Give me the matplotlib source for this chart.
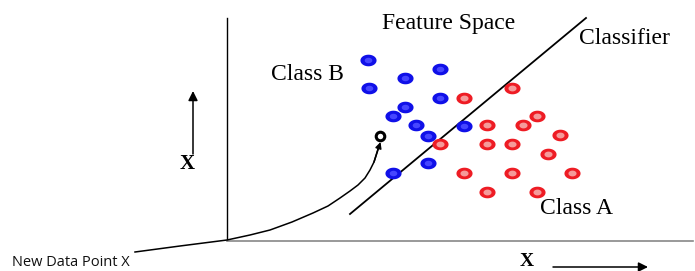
import matplotlib
matplotlib.use("Agg")
import matplotlib.pyplot as plt
import numpy as np
from matplotlib.path import Path

# Data (in picture coordinates: x to the right, y downward)
class_b_x = [368, 405, 440, 369, 440, 405, 393, 416, 428, 464, 428, 393]
class_b_y = [60, 78, 69, 88, 98, 107, 116, 125, 136, 126, 163, 173]
class_a_x = [464, 512, 487, 523, 537, 440, 487, 512, 560, 548, 464, 512, 572, 487, 537]
class_a_y = [98, 88, 125, 125, 116, 144, 144, 144, 135, 154, 173, 173, 173, 192, 192]
new_point = (380, 136)
classifier_x = [350, 586]
classifier_y = [214, 18]
curve_x = [135, 180, 227, 250, 270, 292, 313, 328, 340, 350, 358, 365, 370, 374, 378]
curve_y = [252, 246, 240, 235, 230, 222, 213, 206, 198, 191, 185, 178, 170, 162, 149]

fig = plt.figure(figsize=(6.95, 2.71), dpi=100)
ax = fig.add_axes([0, 0, 1, 1])
ax.set_xlim(0, 695)
ax.set_ylim(271, 0)
ax.axis("off")

# axes lines
ax.plot([227, 227], [18, 240], color="black", lw=1.0)
ax.plot([227, 693], [240.5, 240.5], color="#888888", lw=1.2)

# classifier
ax.plot(classifier_x, classifier_y, color="black", lw=1.3)

# blob marker
t = np.linspace(0, 2 * np.pi, 40)
verts = np.column_stack([np.cos(t), 0.72 * np.sin(t)])
blob = Path(verts, closed=True)

ax.scatter(class_b_x, class_b_y, marker=blob, s=135, color="#1010e8", lw=0, zorder=3)
ax.scatter(class_b_x, class_b_y, marker=blob, s=30, color="#4646ff", lw=0, zorder=4)
ax.scatter(class_a_x, class_a_y, marker=blob, s=135, color="#ee1c24", lw=0, zorder=3)
ax.scatter(class_a_x, class_a_y, marker=blob, s=34, color="#f59a9a", lw=0, zorder=4)

# curve to new point
ax.plot(curve_x, curve_y, color="black", lw=1.1)
ax.annotate("", xy=(380.5, 142), xytext=(curve_x[-2], curve_y[-2]),
            arrowprops=dict(arrowstyle="-|>", color="black", lw=1.1,
                            mutation_scale=9, shrinkA=0, shrinkB=0))
ax.scatter([new_point[0]], [new_point[1]], s=38, facecolor="white",
           edgecolor="black", linewidths=2.2, zorder=5)

# axis arrows
ax.annotate("", xy=(193, 91), xytext=(193, 154),
            arrowprops=dict(arrowstyle="-|>", color="black", lw=1.1,
                            mutation_scale=14, shrinkA=0, shrinkB=0))
ax.annotate("", xy=(648, 267), xytext=(553, 267),
            arrowprops=dict(arrowstyle="-|>", color="black", lw=1.1,
                            mutation_scale=14, shrinkA=0, shrinkB=0))

serif = "Liberation Serif"
ax.text(449, 23, "Feature Space", family=serif, fontsize=17, ha="center", va="center")
ax.text(624, 38, "Classifier", family=serif, fontsize=17, ha="center", va="center")
ax.text(307, 75, "Class B", family=serif, fontsize=17, ha="center", va="center")
ax.text(576, 208, "Class A", family=serif, fontsize=17, ha="center", va="center")
ax.text(187, 164, "X", family=serif, fontsize=15, weight="bold", ha="center", va="center")
ax.text(527, 261, "X", family=serif, fontsize=14, weight="bold", ha="center", va="center")
ax.text(12, 262, "New Data Point X", family="Open Sans", fontsize=10.5,
        color="#111111", ha="left", va="center")

fig.savefig("out.png", dpi=100)
